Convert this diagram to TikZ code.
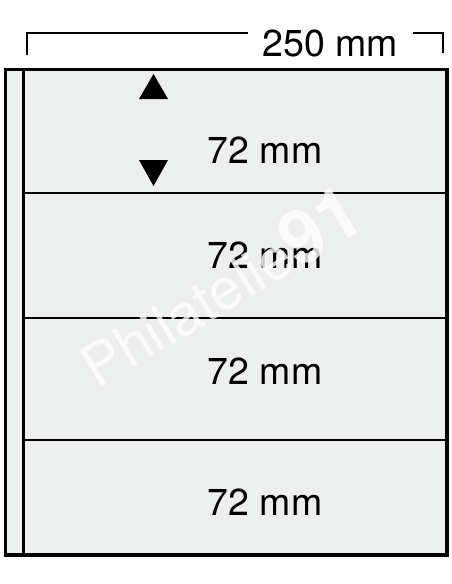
\documentclass[tikz,border=0pt]{standalone}
\usepackage{fontspec}
\setmainfont{TeX Gyre Heros}
\usepackage{xcolor}
\usepackage{tikz}
\usetikzlibrary{positioning}

\definecolor{sheetgray}{RGB}{237,238,238}

\begin{document}
\begin{tikzpicture}[
    x=1pt, y=-1pt,
    frame/.style={draw, line width=3.4pt},
    pocket/.style={rectangle, draw, line width=1.5pt, fill=sheetgray, inner sep=0pt, anchor=north west, minimum width=423.5pt},
    sizelabel/.style={anchor=base, inner sep=0pt, font=\fontsize{37.5}{40}\selectfont},
    dimlabel/.style={anchor=base, inner ysep=0pt, inner xsep=15pt, font=\fontsize{37.5}{40}\selectfont},
    dimline/.style={draw, line width=1.6pt},
    marker/.style={fill=black},
    watermark/.style={rotate=31, anchor=base west, inner sep=0pt, text=white, text opacity=0.8, font=\fontsize{58}{60}\selectfont}
]
\useasboundingbox (0,0) rectangle (452,584);

% Pockets
\foreach \n/\top/\bot in {1/69.2/192, 2/192/317, 3/317/439, 4/439/555}
    \node[pocket, minimum height={\bot pt-\top pt}] (row\n) at (23.5,\top) {};

% Binding strip and outer frame
\fill[sheetgray] (5.5,69.2) rectangle (23.5,555);
\draw[frame] (23.5,69.2) -- (23.5,555);
\draw[frame] (5.5,69.2) rectangle (447,555);

% Pocket heights
\node[sizelabel] (size1) at (265,163) {72 mm};
\node[sizelabel] (size2) at (265,268) {72 mm};
\node[sizelabel] (size3) at (265,384) {72 mm};
\node[sizelabel] (size4) at (265,515) {72 mm};

% Height markers
\fill[marker] (139,99) -- (153.5,74) -- (168,99) -- cycle;
\fill[marker] (139,160) -- (168,160) -- (153.5,186) -- cycle;

% Width dimension
\coordinate (dimtop) at (0,33);
\node[dimlabel] (dimtext) at (330.5,56.7) {250 mm};
\draw[dimline] (27,55) -- (27,33) -- (dimtext.west |- dimtop);
\draw[dimline] (dimtext.east |- dimtop) -- (443,33) -- (443,53);

% Watermark
\node[watermark] (mark) at (97,390) {Philatelie{\fontsize{74}{74}\selectfont\bfseries 91}};

\end{tikzpicture}
\end{document}
